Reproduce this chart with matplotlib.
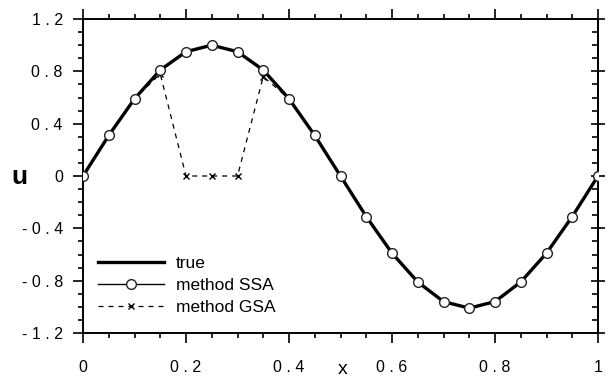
import matplotlib
matplotlib.use('Agg')
import matplotlib.pyplot as plt
from matplotlib.ticker import MultipleLocator

plt.rcParams['font.family'] = ['Liberation Sans', 'DejaVu Sans']
plt.rcParams['font.size'] = 11.5

# values
x = [0.0, 0.05, 0.1, 0.15, 0.2, 0.25, 0.3, 0.35, 0.4, 0.45, 0.5,
     0.55, 0.6, 0.65, 0.7, 0.75, 0.8, 0.85, 0.9, 0.95, 1.0]
u_true = [0.0, 0.31, 0.59, 0.81, 0.95, 1.0, 0.95, 0.81, 0.59, 0.31, 0.0,
          -0.31, -0.59, -0.81, -0.96, -1.01, -0.96, -0.81, -0.59, -0.31, 0.0]
u_ssa = [0.0, 0.31, 0.59, 0.81, 0.95, 1.0, 0.95, 0.81, 0.59, 0.31, 0.0,
         -0.31, -0.59, -0.81, -0.96, -1.01, -0.96, -0.81, -0.59, -0.31, 0.0]
u_gsa = [0.0, 0.31, 0.59, 0.78, 0.0, 0.0, 0.0, 0.76, 0.59, 0.31, 0.0,
         -0.31, -0.59, -0.81, -0.96, -1.01, -0.96, -0.81, -0.59, -0.31, 0.0]

xticks = [0, 0.2, 0.4, 0.6, 0.8, 1.0]
xticklabels = ['0', '0 . 2', '0 . 4', '0 . 6', '0 . 8', '1']
yticks = [-1.2, -0.8, -0.4, 0, 0.4, 0.8, 1.2]
yticklabels = ['- 1 . 2', '- 0 . 8', '- 0 . 4', '0', '0 . 4', '0 . 8', '1 . 2']

fig = plt.figure(figsize=(6.12, 3.78), dpi=100)
ax = fig.add_axes([83/612, 1 - 333/378, 515/612, 314/378])

ax.plot(x, u_true, color='black', lw=2.4, label='true', zorder=2)
ax.plot(x, u_ssa, color='black', lw=1.0, marker='o', ms=7, mfc='white',
        mec='#222222', mew=1.0, label='method SSA', zorder=4)
ax.plot(x, u_gsa, color='black', lw=0.9, ls=(0, (4, 4)), marker='x', ms=5,
        mew=1.0, label='method GSA', zorder=3)

ax.set_xlim(0, 1)
ax.set_ylim(-1.2, 1.2)
ax.set_xticks(xticks)
ax.set_xticklabels(xticklabels)
ax.set_yticks(yticks)
ax.set_yticklabels(yticklabels)
ax.xaxis.set_minor_locator(MultipleLocator(0.05))
ax.yaxis.set_minor_locator(MultipleLocator(0.1))

ax.tick_params(which='both', direction='out', top=True, right=False,
               width=1.2, labelsize=11.5)
ax.tick_params(axis='x', pad=12)
ax.tick_params(axis='y', pad=7)
ax.tick_params(which='major', length=7.5)
ax.tick_params(which='minor', length=3.6)

ax2 = ax.secondary_yaxis('right')
ax2.set_yticks(yticks)
ax2.yaxis.set_minor_locator(MultipleLocator(0.1))
ax2.tick_params(which='major', direction='inout', length=10, width=1.2,
                labelright=False)
ax2.tick_params(which='minor', direction='in', length=4, width=1.2)
ax2.spines['right'].set_linewidth(1.4)

for s in ax.spines.values():
    s.set_linewidth(1.4)

fig.text(343/612, 1 - 370/378, 'x', fontsize=14, ha='center', va='center')
fig.text(19/612, 1 - 177/378, 'u', fontsize=19, fontweight='bold',
         ha='center', va='center')

ax.legend(loc='lower left', frameon=False, fontsize=12.5, handlelength=3.8,
          handletextpad=0.7, labelspacing=0.4, borderpad=0, borderaxespad=0,
          bbox_to_anchor=(15/515, 18/314))

fig.savefig('out.png', dpi=100)
